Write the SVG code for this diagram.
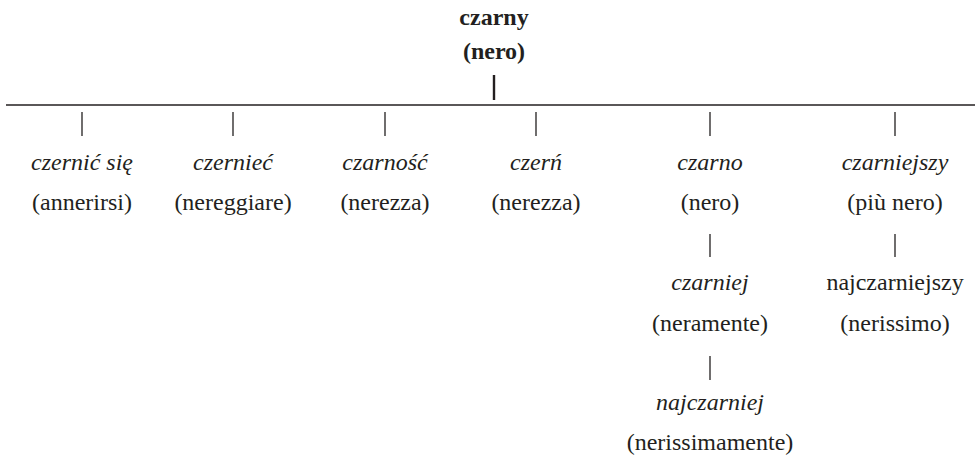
<svg xmlns="http://www.w3.org/2000/svg" width="975" height="456" viewBox="0 0 975 456">
<style>
text{font-size:24px;fill:#231f20;text-anchor:middle}
.i{font-style:italic}
.b{font-weight:bold}
.c line{stroke:#231f20;stroke-width:1.3}
.c line.k{stroke-width:2.4}
</style>
<rect width="975" height="456" fill="#fff"/>
<g class="c" id="connectors">
<line class="k" x1="494" y1="75" x2="494" y2="100"/>
<line x1="6" y1="105" x2="975" y2="105"/>
<line x1="82" y1="112" x2="82" y2="136"/>
<line x1="233" y1="112" x2="233" y2="136"/>
<line x1="385" y1="112" x2="385" y2="136"/>
<line x1="536" y1="112" x2="536" y2="136"/>
<line x1="710" y1="112" x2="710" y2="136"/>
<line x1="895" y1="112" x2="895" y2="136"/>
<line x1="710" y1="234" x2="710" y2="257"/>
<line x1="895" y1="234" x2="895" y2="257"/>
<line x1="710" y1="356" x2="710" y2="380"/>
</g>
<g font-family="'Liberation Serif', 'DejaVu Serif', serif">
<g id="root"><text class="b" x="494" y="25">czarny</text><text class="b" x="494" y="59">(nero)</text></g>
<g id="n1"><text class="i" x="82" y="170">czernić się</text><text x="82" y="210">(annerirsi)</text></g>
<g id="n2"><text class="i" x="233" y="170">czernieć</text><text x="233" y="210">(nereggiare)</text></g>
<g id="n3"><text class="i" x="385" y="170">czarność</text><text x="385" y="210">(nerezza)</text></g>
<g id="n4"><text class="i" x="536" y="170">czerń</text><text x="536" y="210">(nerezza)</text></g>
<g id="n5"><text class="i" x="710" y="170">czarno</text><text x="710" y="210">(nero)</text></g>
<g id="n6"><text class="i" x="895" y="170">czarniejszy</text><text x="895" y="210">(più nero)</text></g>
<g id="n7"><text class="i" x="710" y="290">czarniej</text><text x="710" y="331">(neramente)</text></g>
<g id="n8"><text x="895" y="290">najczarniejszy</text><text x="895" y="331">(nerissimo)</text></g>
<g id="n9"><text class="i" x="710" y="410">najczarniej</text><text x="710" y="450">(nerissimamente)</text></g>
</g>
</svg>
